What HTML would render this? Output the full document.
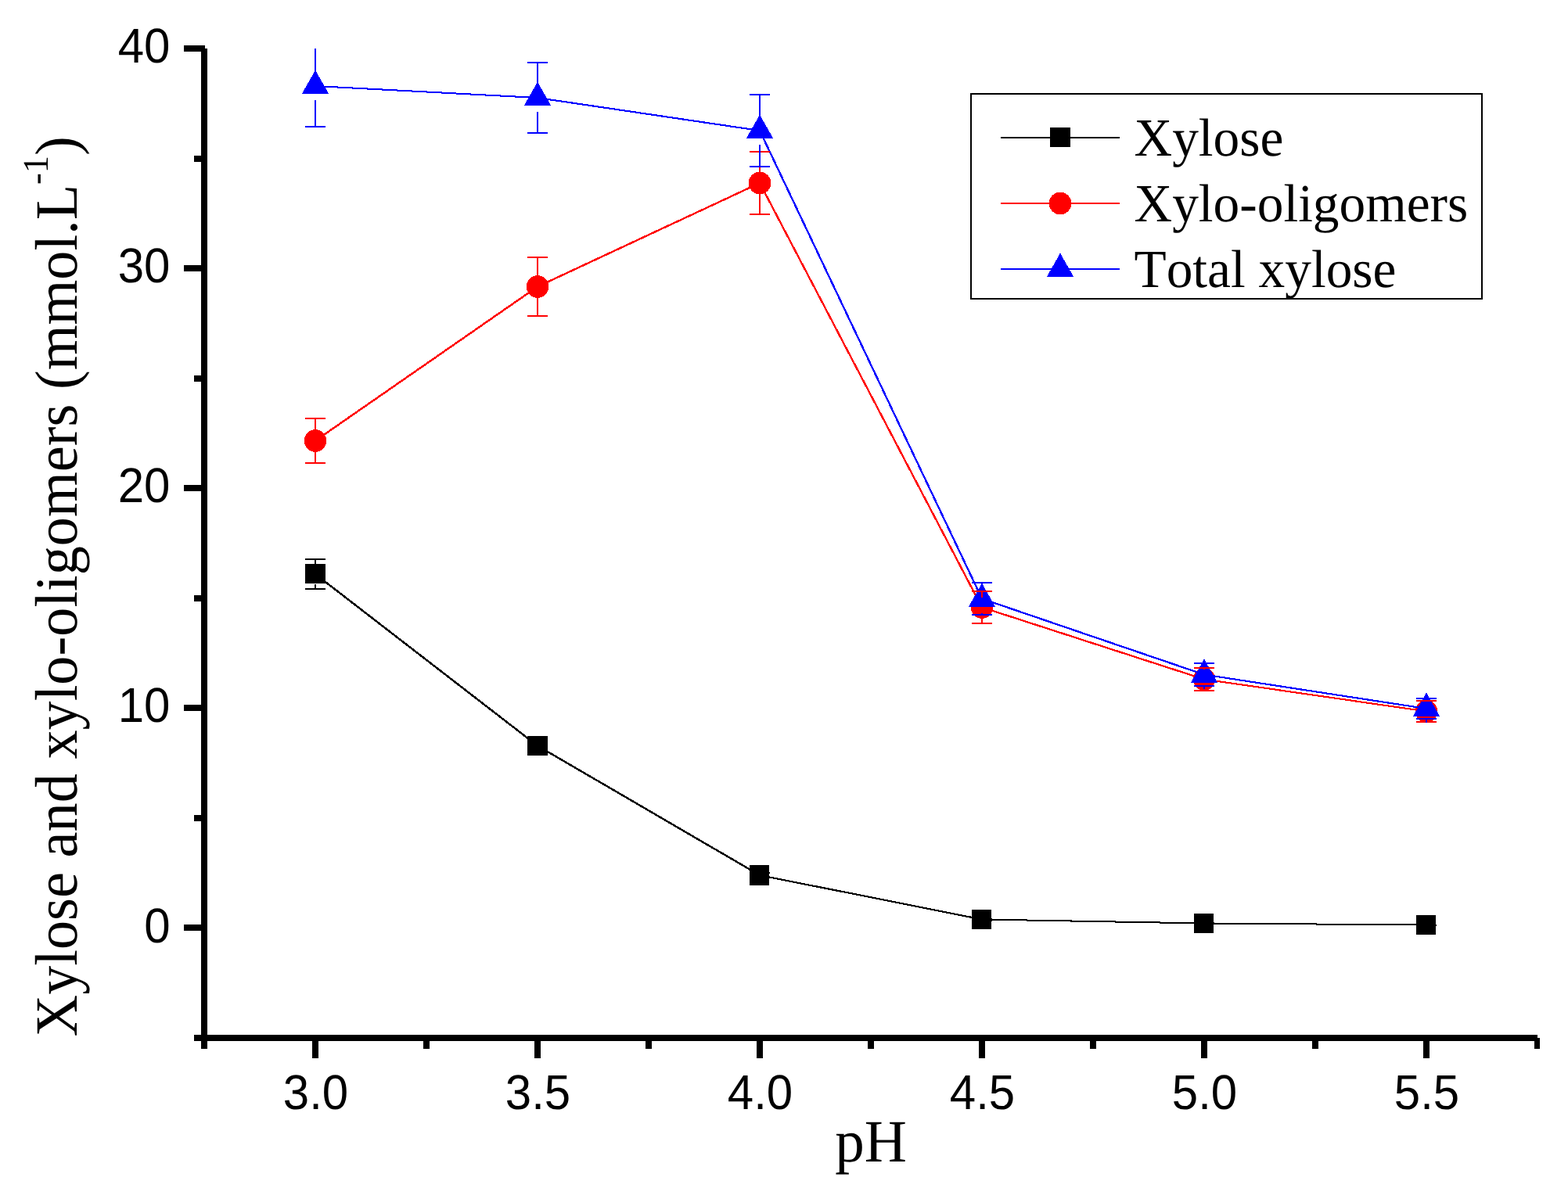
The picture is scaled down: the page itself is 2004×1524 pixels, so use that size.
<!DOCTYPE html>
<html lang="en"><head><meta charset="utf-8"><title>Xylose and xylo-oligomers vs pH</title>
<style>
html,body{margin:0;padding:0;background:#fff;}
body{width:2004px;height:1524px;overflow:hidden;}
svg{display:block;}
text{font-kerning:none;font-variant-ligatures:none;text-rendering:geometricPrecision;}
.tick{font-family:"Liberation Sans",sans-serif;font-size:60px;fill:#000;}
.title{font-family:"Liberation Serif",serif;font-size:75px;fill:#000;}
.leg{font-family:"Liberation Serif",serif;font-size:67.4px;fill:#000;}
</style></head><body>
<svg width="2004" height="1524" viewBox="0 0 2004 1524" role="img" aria-label="Xylose and xylo-oligomers versus pH">
<rect x="0" y="0" width="2004" height="1524" fill="#fff"/>
<g fill="#000" shape-rendering="crispEdges">
<rect x="257" y="62" width="8" height="1279"/>
<rect x="248" y="1323" width="1717" height="8"/>
<rect x="1961" y="1327" width="7" height="14"/>
<rect x="235" y="58" width="27" height="8"/>
<rect x="235" y="339" width="27" height="8"/>
<rect x="235" y="620" width="27" height="8"/>
<rect x="235" y="901" width="27" height="8"/>
<rect x="235" y="1182" width="27" height="8"/>
<rect x="248" y="199" width="13" height="8"/>
<rect x="248" y="480" width="13" height="8"/>
<rect x="248" y="761" width="13" height="8"/>
<rect x="248" y="1042" width="13" height="8"/>
<rect x="399" y="1327" width="8" height="26"/>
<rect x="683" y="1327" width="8" height="26"/>
<rect x="967" y="1327" width="8" height="26"/>
<rect x="1251" y="1327" width="8" height="26"/>
<rect x="1535" y="1327" width="8" height="26"/>
<rect x="1819" y="1327" width="8" height="26"/>
<rect x="541" y="1327" width="8" height="14"/>
<rect x="825" y="1327" width="8" height="14"/>
<rect x="1109" y="1327" width="8" height="14"/>
<rect x="1393" y="1327" width="8" height="14"/>
<rect x="1677" y="1327" width="8" height="14"/>
</g>
<g class="tick" text-anchor="end">
<text transform="translate(217.5 80.1) scale(1 1.045)">40</text>
<text transform="translate(217.5 361.2) scale(1 1.045)">30</text>
<text transform="translate(217.5 642.3) scale(1 1.045)">20</text>
<text transform="translate(217.5 923.4) scale(1 1.045)">10</text>
<text transform="translate(217.5 1204.5) scale(1 1.045)">0</text>
</g>
<g class="tick" text-anchor="middle">
<text transform="translate(403.5 1418.3) scale(1 1.045)">3.0</text>
<text transform="translate(687.5 1418.3) scale(1 1.045)">3.5</text>
<text transform="translate(971.5 1418.3) scale(1 1.045)">4.0</text>
<text transform="translate(1255.5 1418.3) scale(1 1.045)">4.5</text>
<text transform="translate(1539.5 1418.3) scale(1 1.045)">5.0</text>
<text transform="translate(1823.5 1418.3) scale(1 1.045)">5.5</text>
</g>
<text class="title" text-anchor="middle" transform="translate(1113 1485) scale(1 1.025)">pH</text>
<text class="title" style="font-size:74.3px" transform="translate(97.5 1325.5) rotate(-90) scale(1 1.033)" x="0" y="0">Xylose and xylo-oligomers (mmol.L<tspan dy="-35.4" font-size="44.5">-1</tspan><tspan dy="35.4">)</tspan></text>
<g shape-rendering="crispEdges">
<line x1="403" y1="734" x2="687" y2="953.5" stroke="#000" stroke-width="2.48"/>
<line x1="687" y1="953.5" x2="971" y2="1119" stroke="#000" stroke-width="2.44"/>
<line x1="971" y1="1119" x2="1255" y2="1175.5" stroke="#000" stroke-width="2.19"/>
<line x1="1255" y1="1175.5" x2="1539" y2="1180.5" stroke="#000" stroke-width="2.02"/>
<line x1="1539" y1="1180.5" x2="1823" y2="1182.5" stroke="#000" stroke-width="2.01"/>
<rect x="390" y="721" width="26" height="25" fill="#000"/>
<rect x="674" y="941" width="26" height="25" fill="#000"/>
<rect x="958" y="1106" width="25" height="26" fill="#000"/>
<rect x="1242" y="1163" width="25" height="25" fill="#000"/>
<rect x="1526" y="1168" width="25" height="25" fill="#000"/>
<rect x="1810" y="1170" width="25" height="25" fill="#000"/>
<line x1="403" y1="563.5" x2="687" y2="366.5" stroke="#f00" stroke-width="2.47"/>
<line x1="687" y1="366.5" x2="971" y2="234" stroke="#f00" stroke-width="2.38"/>
<line x1="971" y1="234" x2="1255" y2="776.5" stroke="#f00" stroke-width="2.41"/>
<line x1="1255" y1="776.5" x2="1539" y2="868.5" stroke="#f00" stroke-width="2.29"/>
<line x1="1539" y1="868.5" x2="1823" y2="909.5" stroke="#f00" stroke-width="2.14"/>
<circle cx="403" cy="563.5" r="14.3" fill="#f00"/>
<circle cx="687" cy="366.5" r="14.3" fill="#f00"/>
<circle cx="971" cy="234" r="14.3" fill="#f00"/>
<circle cx="1255" cy="776.5" r="14.3" fill="#f00"/>
<circle cx="1539" cy="868.5" r="14.3" fill="#f00"/>
<circle cx="1823" cy="909.5" r="14.3" fill="#f00"/>
<line x1="403" y1="110" x2="687" y2="125" stroke="#00f" stroke-width="2.05"/>
<line x1="687" y1="125" x2="971" y2="167" stroke="#00f" stroke-width="2.14"/>
<line x1="971" y1="167" x2="1255" y2="765.5" stroke="#00f" stroke-width="2.39"/>
<line x1="1255" y1="765.5" x2="1539" y2="862.5" stroke="#00f" stroke-width="2.31"/>
<line x1="1539" y1="862.5" x2="1823" y2="906" stroke="#00f" stroke-width="2.15"/>
<polygon points="403,89.6 420.26,120 385.74,120" fill="#00f"/>
<polygon points="687,104.6 704.26,135 669.74,135" fill="#00f"/>
<polygon points="971,146.6 988.26,177 953.74,177" fill="#00f"/>
<polygon points="1255,745.6 1272.26,776 1237.74,776" fill="#00f"/>
<polygon points="1539,842.6 1556.26,873 1521.74,873" fill="#00f"/>
<polygon points="1823,885.6 1840.26,916 1805.74,916" fill="#00f"/>
<rect x="390" y="714" width="26" height="2" fill="#000"/>
<rect x="402" y="715" width="2" height="6.5" fill="#000"/>
<rect x="390" y="752" width="26" height="2" fill="#000"/>
<rect x="402" y="746.5" width="2" height="6.5" fill="#000"/>
<rect x="674" y="949.5" width="26" height="2" fill="#000"/>
<rect x="686" y="941" width="2" height="9.5" fill="#000"/>
<rect x="674" y="955.5" width="26" height="2" fill="#000"/>
<rect x="686" y="956.5" width="2" height="9.5" fill="#000"/>
<rect x="958" y="1115" width="26" height="2" fill="#000"/>
<rect x="970" y="1106.5" width="2" height="9.5" fill="#000"/>
<rect x="958" y="1121" width="26" height="2" fill="#000"/>
<rect x="970" y="1122" width="2" height="9.5" fill="#000"/>
<rect x="1242" y="1173.5" width="26" height="2" fill="#000"/>
<rect x="1254" y="1163" width="2" height="11.5" fill="#000"/>
<rect x="1242" y="1175.5" width="26" height="2" fill="#000"/>
<rect x="1254" y="1176.5" width="2" height="11.5" fill="#000"/>
<rect x="1526" y="1179" width="26" height="2" fill="#000"/>
<rect x="1538" y="1168" width="2" height="12" fill="#000"/>
<rect x="1526" y="1180" width="26" height="2" fill="#000"/>
<rect x="1538" y="1181" width="2" height="12" fill="#000"/>
<rect x="1810" y="1181.5" width="26" height="2" fill="#000"/>
<rect x="1822" y="1170" width="2" height="12.5" fill="#000"/>
<rect x="1810" y="1181.5" width="26" height="2" fill="#000"/>
<rect x="1822" y="1182.5" width="2" height="12.5" fill="#000"/>
<rect x="390" y="534" width="26" height="2" fill="#f00"/>
<rect x="402" y="535" width="2" height="16" fill="#f00"/>
<rect x="390" y="591" width="26" height="2" fill="#f00"/>
<rect x="402" y="576" width="2" height="16" fill="#f00"/>
<rect x="674" y="328" width="26" height="2" fill="#f00"/>
<rect x="686" y="329" width="2" height="25" fill="#f00"/>
<rect x="674" y="403" width="26" height="2" fill="#f00"/>
<rect x="686" y="379" width="2" height="25" fill="#f00"/>
<rect x="958" y="193" width="26" height="2" fill="#f00"/>
<rect x="970" y="194" width="2" height="27.5" fill="#f00"/>
<rect x="958" y="273" width="26" height="2" fill="#f00"/>
<rect x="970" y="246.5" width="2" height="27.5" fill="#f00"/>
<rect x="1242" y="755" width="26" height="2" fill="#f00"/>
<rect x="1254" y="756" width="2" height="8" fill="#f00"/>
<rect x="1242" y="796" width="26" height="2" fill="#f00"/>
<rect x="1254" y="789" width="2" height="8" fill="#f00"/>
<rect x="1526" y="853" width="26" height="2" fill="#f00"/>
<rect x="1538" y="854" width="2" height="2" fill="#f00"/>
<rect x="1526" y="882" width="26" height="2" fill="#f00"/>
<rect x="1538" y="881" width="2" height="2" fill="#f00"/>
<rect x="1810" y="895" width="26" height="2" fill="#f00"/>
<rect x="1822" y="896" width="2" height="1" fill="#f00"/>
<rect x="1810" y="922" width="26" height="2" fill="#f00"/>
<rect x="1822" y="922" width="2" height="1" fill="#f00"/>
<rect x="402" y="62" width="2" height="30" fill="#00f"/>
<rect x="390" y="161" width="26" height="2" fill="#00f"/>
<rect x="402" y="128" width="2" height="34" fill="#00f"/>
<rect x="674" y="79" width="26" height="2" fill="#00f"/>
<rect x="686" y="80" width="2" height="27" fill="#00f"/>
<rect x="674" y="169" width="26" height="2" fill="#00f"/>
<rect x="686" y="143" width="2" height="27" fill="#00f"/>
<rect x="958" y="120" width="26" height="2" fill="#00f"/>
<rect x="970" y="121" width="2" height="28" fill="#00f"/>
<rect x="958" y="212" width="26" height="2" fill="#00f"/>
<rect x="970" y="185" width="2" height="28" fill="#00f"/>
<rect x="1242" y="744" width="26" height="2" fill="#00f"/>
<rect x="1254" y="745" width="2" height="2.5" fill="#00f"/>
<rect x="1242" y="785" width="26" height="2" fill="#00f"/>
<rect x="1254" y="783.5" width="2" height="2.5" fill="#00f"/>
<rect x="1526" y="847" width="26" height="2" fill="#00f"/>
<rect x="1538" y="844.5" width="2" height="3.5" fill="#00f"/>
<rect x="1526" y="876" width="26" height="2" fill="#00f"/>
<rect x="1538" y="877" width="2" height="3.5" fill="#00f"/>
<rect x="1810" y="892" width="26" height="2" fill="#00f"/>
<rect x="1822" y="888" width="2" height="5" fill="#00f"/>
<rect x="1810" y="918" width="26" height="2" fill="#00f"/>
<rect x="1822" y="919" width="2" height="5" fill="#00f"/>
</g>
<g shape-rendering="crispEdges">
<rect x="1241" y="120" width="653" height="262" fill="#fff" stroke="#000" stroke-width="2"/>
<rect x="1279" y="175" width="152" height="2" fill="#000"/>
<rect x="1342" y="163" width="26" height="25" fill="#000"/>
<rect x="1279" y="259" width="152" height="2" fill="#f00"/>
<circle cx="1355" cy="260" r="14.3" fill="#f00"/>
<rect x="1279" y="343" width="152" height="2" fill="#00f"/>
<polygon points="1355,323.6 1372.26,354 1337.74,354" fill="#00f"/>
</g>
<g class="leg">
<text transform="translate(1449.5 199) scale(1 1.018)">Xylose</text>
<text transform="translate(1449.5 283) scale(1 1.018)">Xylo-oligomers</text>
<text transform="translate(1449.5 367) scale(1 1.018)">Total xylose</text>
</g>
</svg>
</body></html>
